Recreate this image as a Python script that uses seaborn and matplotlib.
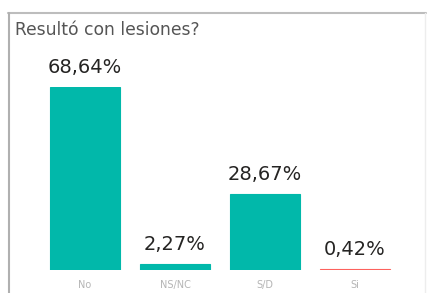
import pandas as pd
import matplotlib.pyplot as plt
import seaborn as sns
from matplotlib.lines import Line2D

# --- DATOS ---
categorias = ["No", "NS/NC", "S/D", "Si"]
porcentajes = [68.64, 2.27, 28.67, 0.42]
etiquetas = ["68,64%", "2,27%", "28,67%", "0,42%"]
colores = {"No": "#01B8AA", "NS/NC": "#01B8AA", "S/D": "#01B8AA", "Si": "#FD625E"}

df = pd.DataFrame({"categoria": categorias, "porcentaje": porcentajes})

sns.set_style("white")
plt.rcParams["font.family"] = ["DejaVu Sans"]

fig = plt.figure(figsize=(4.28, 2.93), dpi=100)
W, H = 428, 293

# marco gris del visual
def linea(x0, y0, x1, y1, color, lw):
    fig.lines.append(Line2D([x0 / W, x1 / W], [1 - y0 / H, 1 - y1 / H],
                            transform=fig.transFigure, color=color, linewidth=lw))

linea(8, 13, 426, 13, "#bdbdbd", 1.5)
linea(8.5, 13, 8.5, 293, "#b0b0b0", 1.5)
linea(425, 13, 425, 293, "#ededed", 1.0)

fig.text(15 / W, 1 - 30 / H, "Resultó con lesiones?", fontsize=12.3, color="#555555",
         va="center", ha="left")

ax = fig.add_axes([40 / W, (H - 270) / H, 360 / W, 183 / H])
sns.barplot(data=df, x="categoria", y="porcentaje", hue="categoria", palette=colores,
            width=0.775, legend=False, ax=ax, saturation=1)
ax.set_ylim(0, 68.64)
ax.set_xlim(-0.5, 3.5)
for s in ax.spines.values():
    s.set_visible(False)
ax.set_yticks([])
ax.set_xlabel("")
ax.set_ylabel("")
ax.tick_params(axis="x", length=0, pad=7, labelsize=7, labelcolor="#b5b5b5")

# la barra "Si" es casi invisible: borde fino del mismo color
for p in ax.patches:
    p.set_edgecolor(p.get_facecolor())
    p.set_linewidth(0.8)

for i, (v, t) in enumerate(zip(porcentajes, etiquetas)):
    ax.annotate(t, (i, v), xytext=(0, 7), textcoords="offset points", ha="center",
                va="bottom", fontsize=14, color="#252423", annotation_clip=False)

fig.savefig("out.png", dpi=100)
